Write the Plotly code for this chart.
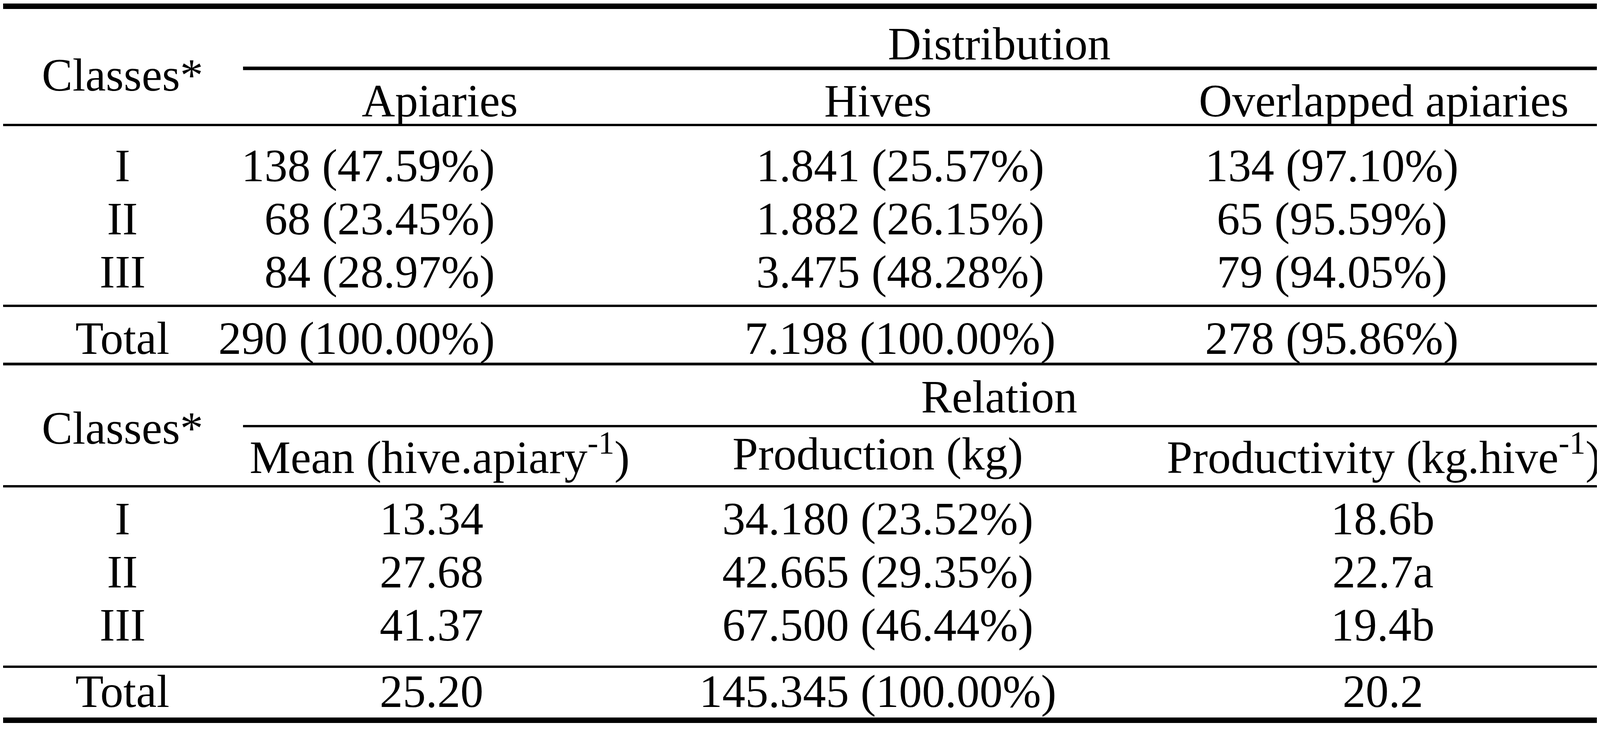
import plotly.graph_objects as go

W, H = 6529, 1869

classes = ["I", "II", "III"]
apiaries = ["138 (47.59%)", "68 (23.45%)", "84 (28.97%)"]
hives = ["1.841 (25.57%)", "1.882 (26.15%)", "3.475 (48.28%)"]
overlapped = ["134 (97.10%)", "65 (95.59%)", "79 (94.05%)"]
dist_total = ["290 (100.00%)", "7.198 (100.00%)", "278 (95.86%)"]
dist_headers = ["Apiaries", "Hives", "Overlapped apiaries"]

mean_hives = ["13.34", "27.68", "41.37"]
production = ["34.180 (23.52%)", "42.665 (29.35%)", "67.500 (46.44%)"]
productivity = ["18.6b", "22.7a", "19.4b"]
rel_total = ["25.20", "145.345 (100.00%)", "20.2"]
rel_headers = ["Mean (hive.apiary<sup>-1</sup>)", "Production (kg)",
               "Productivity (kg.hive<sup>-1</sup>)"]

FONT = dict(family="Liberation Serif, Times New Roman, serif", size=118, color="black")

fig = go.Figure()
fig.add_trace(go.Scatter(x=[0, W], y=[0, H], mode="markers", marker=dict(opacity=0),
                         hoverinfo="skip", showlegend=False))


def txt(x, y, s, anchor="center"):
    fig.add_annotation(x=x, y=y, text=s, showarrow=False, xanchor=anchor,
                       yanchor="middle", font=FONT)


def hline(y, x0=0, x1=W, w=6):
    fig.add_shape(type="line", x0=x0, x1=x1, y0=y, y1=y, line=dict(color="black", width=w))


def block(top, title, headers, cols, totals, col_x, anchors):
    txt(487, top + 172, "Classes*")
    txt(4065, top + 92, title)
    for hx, h in zip([1782, 3569, 5634], headers):
        txt(hx, top + 238, h)
    for i, c in enumerate(classes):
        y = top + 404 + i * 136
        txt(487, y, c)
        for x, a, col in zip(col_x, anchors, cols):
            txt(x, y, col[i], a)
    txt(487, top + 846, "Total")
    for x, a, t in zip(col_x, anchors, totals):
        txt(x, top + 846, t, a)


block(12, "Distribution", dist_headers, [apiaries, hives, overlapped], dist_total,
      [2010, 3660, 5422], ["right", "center", "center"])
block(916, "Relation", rel_headers, [mean_hives, production, productivity], rel_total,
      [1749, 3569, 5630], ["center", "center", "center"])

hline(8, w=14)
hline(167, 979, W, 9)
hline(312)
hline(775)
hline(924, w=7)
hline(1083, 979, W, 6)
hline(1237)
hline(1699)
hline(1836, w=14)

fig.update_xaxes(visible=False, range=[0, W])
fig.update_yaxes(visible=False, range=[H, 0])
fig.update_layout(autosize=True, margin=dict(l=0, r=0, t=0, b=0),
                  plot_bgcolor="white", paper_bgcolor="white")
fig.write_html("out.html", default_width="100vw", default_height="100vh",
               config={"responsive": True})
